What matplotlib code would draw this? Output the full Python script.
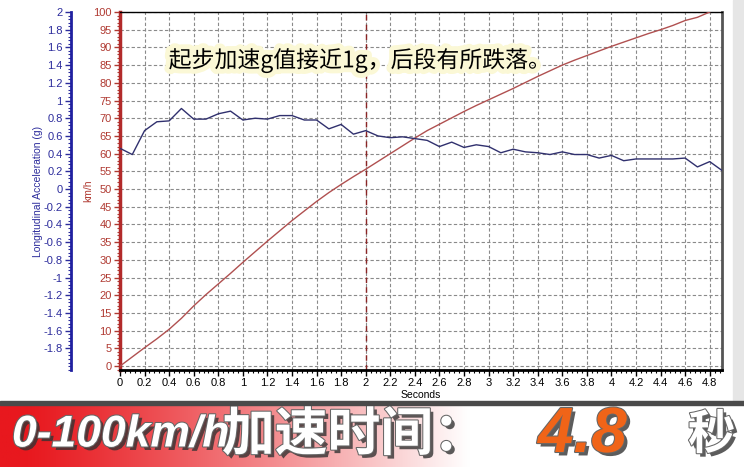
import numpy as np
import matplotlib
matplotlib.use('Agg')
import matplotlib.pyplot as plt
import matplotlib.patheffects as pe
from matplotlib.patches import Rectangle
from matplotlib.ticker import MultipleLocator, FixedLocator, FuncFormatter

plt.rcParams['axes.unicode_minus'] = False
plt.rcParams['font.family'] = ['Liberation Sans', 'Noto Sans CJK SC', 'DejaVu Sans']

# longitudinal acceleration (g), sampled every 0.1 s
accel_time = [0.0, 0.1, 0.2, 0.3, 0.4, 0.5, 0.6, 0.7, 0.8, 0.9,
              1.0, 1.1, 1.2, 1.3, 1.4, 1.5, 1.6, 1.7, 1.8, 1.9,
              2.0, 2.1, 2.2, 2.3, 2.4, 2.5, 2.6, 2.7, 2.8, 2.9,
              3.0, 3.1, 3.2, 3.3, 3.4, 3.5, 3.6, 3.7, 3.8, 3.9,
              4.0, 4.1, 4.2, 4.3, 4.4, 4.5, 4.6, 4.7, 4.8, 4.9]
accel_g = [0.46, 0.39, 0.66, 0.76, 0.77, 0.91, 0.79, 0.79, 0.85, 0.88,
           0.78, 0.80, 0.79, 0.83, 0.83, 0.78, 0.78, 0.68, 0.73, 0.62,
           0.66, 0.60, 0.58, 0.59, 0.57, 0.55, 0.48, 0.53, 0.47, 0.50,
           0.48, 0.41, 0.45, 0.42, 0.41, 0.39, 0.42, 0.39, 0.39, 0.35,
           0.38, 0.32, 0.34, 0.34, 0.34, 0.34, 0.35, 0.25, 0.31, 0.21]

# speed (km/h)
speed_time = accel_time[:49]
speed_kmh = [0.0, 2.6, 5.2, 7.7, 10.4, 13.5, 17.0, 20.2, 23.2, 26.2,
             29.3, 32.3, 35.3, 38.2, 41.1, 43.8, 46.5, 49.0, 51.3, 53.5,
             55.6, 57.8, 60.0, 62.2, 64.4, 66.5, 68.3, 70.1, 71.9, 73.6,
             75.2, 76.8, 78.4, 80.1, 81.8, 83.4, 85.0, 86.4, 87.7, 89.0,
             90.3, 91.5, 92.7, 93.9, 95.0, 96.2, 97.6, 98.5, 100.0]

accel_ticks = [-1.8, -1.6, -1.4, -1.2, -1.0, -0.8, -0.6, -0.4, -0.2, 0.0,
               0.2, 0.4, 0.6, 0.8, 1.0, 1.2, 1.4, 1.6, 1.8, 2.0]

note = '起步加速g值接近1g，后段有所跌落。'
banner_speed = '0-100km/h'
banner_label = '加速时间：'
banner_value = '4.8'
banner_unit = '秒'

blue = '#2c2c9c'
red = '#b03a32'
fmt = FuncFormatter(lambda v, p: f'{v:g}')

fig = plt.figure(figsize=(7.44, 4.67), dpi=100)
W, H = 744, 467
ax = fig.add_axes([120 / W, 1 - 370 / H, 602 / W, 358 / H])

ax.plot(speed_time, speed_kmh, color='#b05050', lw=1, zorder=3)
ax.set_xlim(0, 4.9)
ax.set_ylim(-1.1, 100)
ax.xaxis.set_major_locator(MultipleLocator(0.2))
ax.xaxis.set_minor_locator(MultipleLocator(0.04))
ax.xaxis.set_major_formatter(fmt)
ax.yaxis.set_major_locator(MultipleLocator(5))
ax.yaxis.set_minor_locator(MultipleLocator(1))
ax.grid(True, which='major', color='#8a8a8a', ls=(0, (3, 2)), lw=0.8)
ax.axvline(2, color='#8b2525', ls=(0, (4, 3)), lw=1, zorder=2)
ax.tick_params(axis='x', which='major', labelsize=8, length=4, width=1, pad=2)
ax.tick_params(axis='x', which='minor', length=2, width=0.8)
ax.tick_params(axis='y', which='major', labelsize=8, length=4, width=1,
               colors=red, pad=2)
ax.tick_params(axis='y', which='minor', length=2, width=0.8, colors=red)
ax.spines['left'].set_color('#b22a2a')
ax.spines['left'].set_linewidth(2.5)
ax.spines['bottom'].set_linewidth(2)
ax.spines['top'].set_linewidth(1)
ax.spines['right'].set_color('#555555')
ax.spines['right'].set_linewidth(2)
ax.set_xlabel('Seconds', fontsize=7.5, labelpad=1)
ax.set_ylabel('km/h', fontsize=7.5, color=red, labelpad=0)

ax.text(1.95, 86.4, note, fontsize=16.5, color='black', ha='center', va='center',
        family=['Noto Sans CJK SC', 'DejaVu Sans'], zorder=5,
        path_effects=[pe.withStroke(linewidth=7, foreground='#fbf8d6')])

ax2 = ax.twinx()
ax2.plot(accel_time, accel_g, color='#30306e', lw=1, zorder=3)
ax2.set_ylim(-2.044, 2)
ax2.yaxis.tick_left()
ax2.yaxis.set_label_position('left')
ax2.spines['left'].set_position(('axes', -49 / 602))
ax2.spines['left'].set_visible(True)
ax2.spines['left'].set_color('#2020a0')
ax2.spines['left'].set_linewidth(2)
for s in ['right', 'top', 'bottom']:
    ax2.spines[s].set_visible(False)
ax2.yaxis.set_major_locator(FixedLocator(accel_ticks))
ax2.yaxis.set_minor_locator(MultipleLocator(0.04))
ax2.yaxis.set_major_formatter(fmt)
ax2.tick_params(axis='y', which='major', labelsize=8, length=4, width=1,
                colors=blue, pad=2)
ax2.tick_params(axis='y', which='minor', length=2, width=0.8, colors=blue)
ax2.set_ylabel('Longitudinal Acceleration (g)', fontsize=7.5, color=blue, labelpad=0)

# light grey strip on the right edge
fig.patches.append(Rectangle((733 / W, 64 / H), 11 / W, 1 - 64 / H,
                             transform=fig.transFigure, color='#e6e6e6', zorder=0))

# bottom banner with red-to-white gradient
bax = fig.add_axes([0, 0, 1, 63 / H])
u = np.linspace(0, 1, 400)
w = np.clip((u - 0.03) / 0.6, 0, 1) ** 1.2
red_rgb = np.array([232, 24, 30]) / 255
grad = red_rgb[None, :] * (1 - w[:, None]) + w[:, None]
bax.imshow(grad[None, :, :], aspect='auto', extent=[0, 1, 0, 1])
bax.set_xlim(0, 1)
bax.set_ylim(0, 1)
bax.axis('off')
fig.patches.append(Rectangle((0, 62 / H), 1, 4 / H, transform=fig.transFigure,
                             color='#4a4a4a', zorder=5))

shadow = [pe.SimplePatchShadow(offset=(2.5, -2.5), shadow_rgbFace='#333333', alpha=0.8),
          pe.withStroke(linewidth=1.5, foreground='#666666')]
ty = 32 / H
fig.text(12 / W, ty, banner_speed, fontsize=32, color='white', weight='bold',
         style='italic', va='center', ha='left', family=['Liberation Sans'],
         path_effects=shadow)
fig.text(222 / W, ty, banner_label, fontsize=38, color='white', weight='bold',
         va='center', ha='left', family=['Noto Sans CJK SC'],
         path_effects=shadow)
fig.text(538 / W, ty, banner_value, fontsize=46, color='#f06418', weight='bold',
         style='italic', va='center', ha='left', family=['Liberation Sans'],
         path_effects=shadow)
fig.text(688 / W, ty, banner_unit, fontsize=34, color='white', weight='bold',
         va='center', ha='left', family=['Noto Sans CJK SC'],
         path_effects=shadow)

fig.savefig('out.png', dpi=100)
